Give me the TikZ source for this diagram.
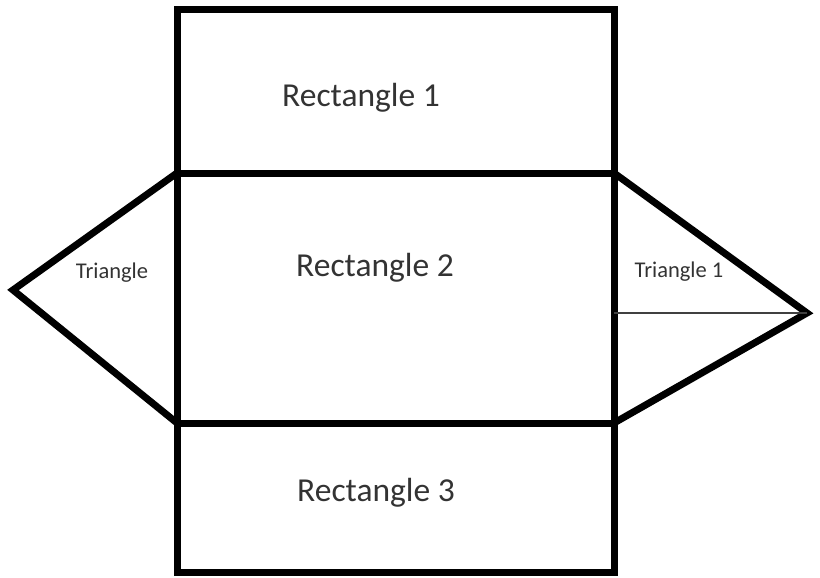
\documentclass[tikz,border=0pt]{standalone}
\usepackage{fontspec}
\setmainfont{Carlito}
\definecolor{txt}{HTML}{333333}
\begin{document}
\begin{tikzpicture}[x=1pt,y=-1pt,
  edge/.style={line width=7pt,line join=miter,black},
  thinline/.style={line width=1.4pt,black!75},
  bigtext/.style={font=\fontsize{33.5}{36}\selectfont,text=txt,inner sep=0pt},
  smalltext/.style={font=\fontsize{22.5}{26}\selectfont,text=txt,inner sep=0pt}]
\useasboundingbox (0,0) rectangle (820,578);
% vertices
\coordinate (tl) at (177,10);
\coordinate (tr) at (614,10);
\coordinate (ml1) at (177,173);
\coordinate (mr1) at (614,173);
\coordinate (ml2) at (177,423);
\coordinate (mr2) at (614,423);
\coordinate (bl) at (177,572);
\coordinate (br) at (614,572);
\coordinate (lapex) at (13,290);
\coordinate (rapex) at (807,313);
\coordinate (rmid) at (614,313);
% outer rectangle
\draw[edge] (tl) -- (tr) -- (br) -- (bl) -- cycle;
\draw[edge] (ml1) -- (mr1);
\draw[edge] (ml2) -- (mr2);
% triangles
\draw[edge] (ml1) -- (lapex) -- (ml2);
\draw[edge] (mr1) -- (rapex) -- (mr2);
\draw[thinline] (rmid) -- (rapex);
% labels
\node[bigtext] (r1) at (361,98) {Rectangle 1};
\node[bigtext] (r2) at (375,268) {Rectangle 2};
\node[bigtext] (r3) at (376,493) {Rectangle 3};
\node[smalltext] (t0) at (112,273) {Triangle};
\node[smalltext] (t1) at (679,272) {Triangle 1};
\end{tikzpicture}
\end{document}
